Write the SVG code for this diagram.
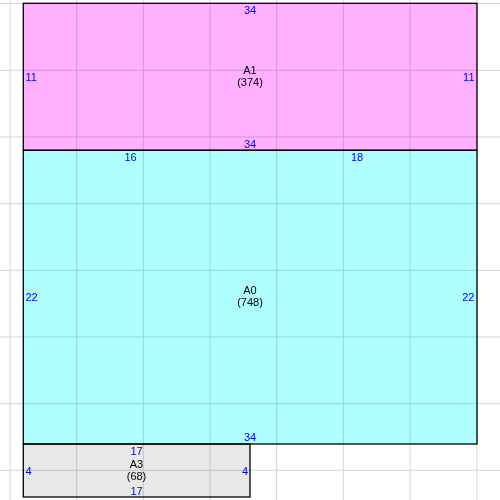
<svg xmlns="http://www.w3.org/2000/svg" width="500" height="500" viewBox="0 0 500 500">
<style>
.grid line{stroke:#d6d6d6;stroke-width:1}
.fill{mix-blend-mode:multiply}
.border{fill:none;stroke:#000;stroke-width:1.3}
text{font-family:"Liberation Sans",Arial,sans-serif;font-size:11px}
.lbl{fill:#0000ff}
.name{fill:#000;text-anchor:middle}
.mid{text-anchor:middle}
.end{text-anchor:end}
</style>
<rect x="0" y="0" width="500" height="500" fill="#fff"/>
<g class="grid">
<line x1="10" y1="0" x2="10" y2="500"/>
<line x1="76.7" y1="0" x2="76.7" y2="500"/>
<line x1="143.3" y1="0" x2="143.3" y2="500"/>
<line x1="210" y1="0" x2="210" y2="500"/>
<line x1="276.7" y1="0" x2="276.7" y2="500"/>
<line x1="343.3" y1="0" x2="343.3" y2="500"/>
<line x1="410" y1="0" x2="410" y2="500"/>
<line x1="477" y1="0" x2="477" y2="500"/>
<line x1="0" y1="3.5" x2="500" y2="3.5"/>
<line x1="0" y1="70.3" x2="500" y2="70.3"/>
<line x1="0" y1="137" x2="500" y2="137"/>
<line x1="0" y1="203.7" x2="500" y2="203.7"/>
<line x1="0" y1="270.3" x2="500" y2="270.3"/>
<line x1="0" y1="337" x2="500" y2="337"/>
<line x1="0" y1="403.7" x2="500" y2="403.7"/>
<line x1="0" y1="470.3" x2="500" y2="470.3"/>
</g>
<g id="A1">
<rect class="fill" x="23.3" y="3.3" width="453.7" height="147" fill="#ffb0ff"/>
<rect class="border" x="23.3" y="3.3" width="453.7" height="147"/>
<text class="name" x="250" y="74">A1</text>
<text class="name" x="250" y="86">(374)</text>
<text class="lbl mid" x="250" y="14">34</text>
<text class="lbl mid" x="250" y="148">34</text>
<text class="lbl" x="25.5" y="81">11</text>
<text class="lbl end" x="474.5" y="81">11</text>
</g>
<g id="A0">
<rect class="fill" x="23.3" y="150.3" width="453.7" height="293.7" fill="#b0ffff"/>
<rect class="border" x="23.3" y="150.3" width="453.7" height="293.7"/>
<text class="name" x="250" y="294">A0</text>
<text class="name" x="250" y="306">(748)</text>
<text class="lbl mid" x="130.5" y="161">16</text>
<text class="lbl mid" x="357" y="161">18</text>
<text class="lbl mid" x="250" y="441">34</text>
<text class="lbl" x="25.5" y="301">22</text>
<text class="lbl end" x="474.5" y="301">22</text>
</g>
<g id="A3">
<rect class="fill" x="23.3" y="444" width="226.7" height="53" fill="#e8e8e8"/>
<rect class="border" x="23.3" y="444" width="226.7" height="53"/>
<text class="name" x="136.5" y="467.5">A3</text>
<text class="name" x="136.5" y="479.5">(68)</text>
<text class="lbl mid" x="136.5" y="455">17</text>
<text class="lbl mid" x="136.5" y="494.5">17</text>
<text class="lbl" x="25.5" y="475">4</text>
<text class="lbl end" x="248" y="475">4</text>
</g>
<g id="connectors"/>
</svg>
